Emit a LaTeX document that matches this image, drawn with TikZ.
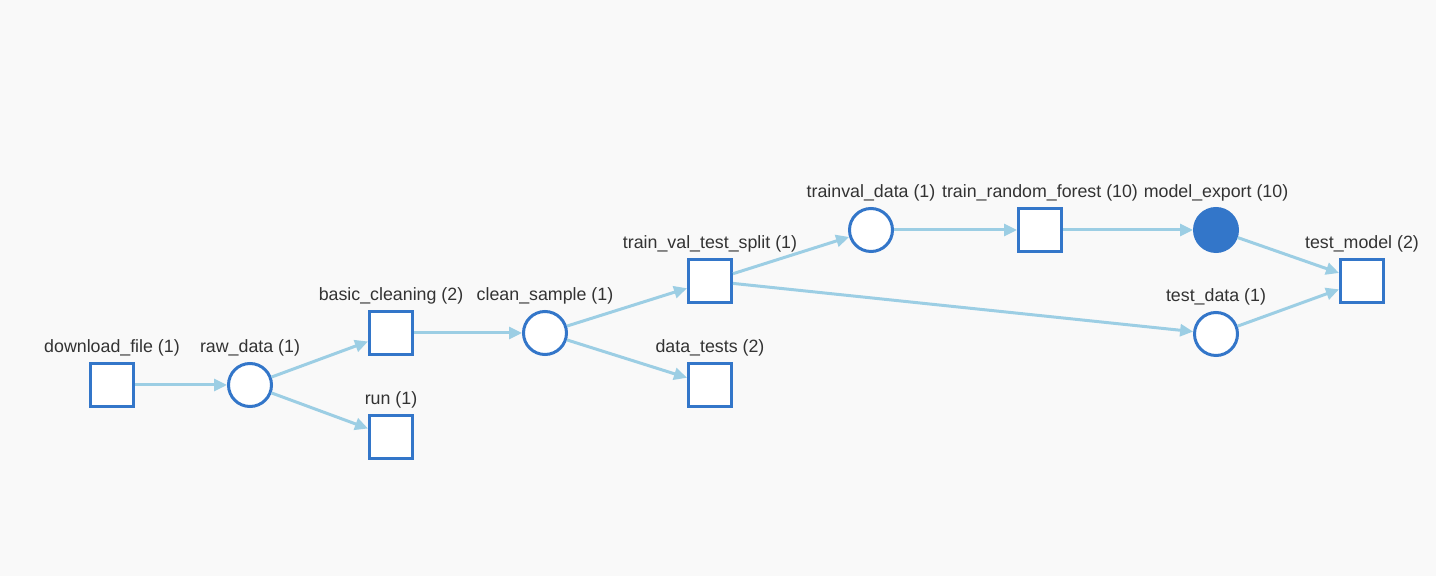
\documentclass[tikz,border=0pt]{standalone}
\usepackage{fontspec}
\setmainfont{Liberation Sans}
\usepackage{xcolor}
\usetikzlibrary{arrows.meta}
\definecolor{bg}{HTML}{F9F9F9}
\definecolor{nodeline}{HTML}{3376C9}
\definecolor{edgeline}{HTML}{9CCEE4}
\definecolor{text}{HTML}{333333}
\tikzset{
  stepbox/.style={draw=nodeline, fill=white, line width=1.5pt, minimum size=21.5pt, inner sep=0pt},
  artif/.style={circle, draw=nodeline, fill=white, line width=1.5pt, minimum size=21.5pt, inner sep=0pt},
  artdone/.style={artif, fill=nodeline},
  lbl/.style={text=text, font=\fontsize{8.9pt}{10pt}\selectfont, inner sep=2pt},
  flow/.style={draw=edgeline, line width=1.5pt, -{Triangle[length=6.5pt, width=6pt]}},
  every label/.style={lbl},
  label distance=0.5pt,
}
\begin{document}
\begin{tikzpicture}[x=0.5pt, y=-0.5pt]
  \fill[bg] (0,0) rectangle (1436,576);
  \useasboundingbox (0,0) rectangle (1436,576);
  % steps and artifacts
  \node[stepbox, label=above:{download\_file (1)}] (download) at (112,385) {};
  \node[artif, label=above:{raw\_data (1)}] (rawdata) at (250,385) {};
  \node[stepbox, label=above:{basic\_cleaning (2)}] (basic) at (391,333) {};
  \node[stepbox, label=above:{run (1)}] (run) at (391,437) {};
  \node[artif, label=above:{clean\_sample (1)}] (clean) at (545,333) {};
  \node[stepbox, label=above:{train\_val\_test\_split (1)}] (split) at (710,281) {};
  \node[stepbox, label=above:{data\_tests (2)}] (tests) at (710,385) {};
  \node[artif, label=above:{trainval\_data (1)}] (trainval) at (871,230) {};
  \node[stepbox, label=above:{train\_random\_forest (10)}] (forest) at (1040,230) {};
  \node[artdone, label=above:{model\_export (10)}] (export) at (1216,230) {};
  \node[artif, label=above:{test\_data (1)}] (testdata) at (1216,334) {};
  \node[stepbox, label=above:{test\_model (2)}] (testmodel) at (1362,281) {};
  % edges
  \draw[flow] (download) -- (rawdata);
  \draw[flow] (rawdata) -- (basic);
  \draw[flow] (rawdata) -- (run);
  \draw[flow] (basic) -- (clean);
  \draw[flow] (clean) -- (split);
  \draw[flow] (clean) -- (tests);
  \draw[flow] (split) -- (trainval);
  \draw[flow] (split) -- (testdata);
  \draw[flow] (trainval) -- (forest);
  \draw[flow] (forest) -- (export);
  \draw[flow] (export) -- (testmodel);
  \draw[flow] (testdata) -- (testmodel);
\end{tikzpicture}
\end{document}
